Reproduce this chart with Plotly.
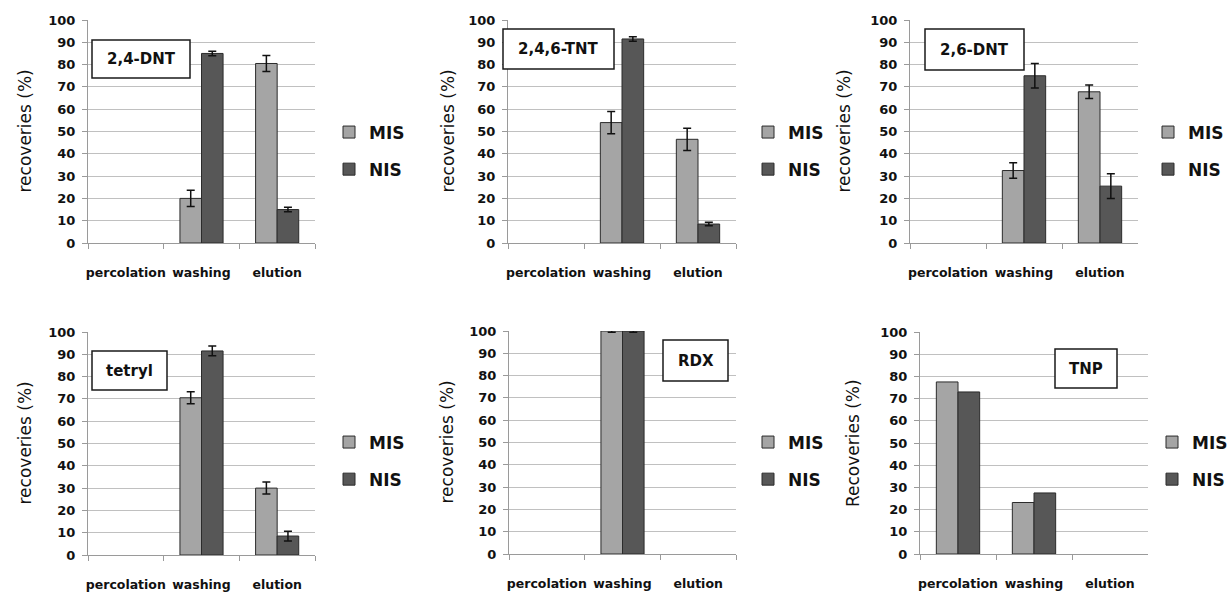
import plotly.graph_objects as go

W, H = 1228, 592

categories = ["percolation", "washing", "elution"]
series_names = ["MIS", "NIS"]

# panel titles
panel_names = ["2,4-DNT", "2,4,6-TNT", "2,6-DNT", "tetryl", "RDX", "TNP"]
y_titles = ["recoveries (%)", "recoveries (%)", "recoveries (%)",
            "recoveries (%)", "recoveries (%)", "Recoveries (%)"]

# values (%)
dnt24_mis = [0, 20, 80.5]
dnt24_nis = [0, 85, 15]
dnt24_mis_err = [None, 3.6, 3.6]
dnt24_nis_err = [None, 1.0, 1.0]

tnt_mis = [0, 54, 46.5]
tnt_nis = [0, 91.5, 8.5]
tnt_mis_err = [None, 5.0, 5.0]
tnt_nis_err = [None, 1.0, 0.8]

dnt26_mis = [0, 32.5, 67.8]
dnt26_nis = [0, 75, 25.5]
dnt26_mis_err = [None, 3.5, 3.0]
dnt26_nis_err = [None, 5.5, 5.5]

tetryl_mis = [0, 70.5, 30]
tetryl_nis = [0, 91.5, 8.5]
tetryl_mis_err = [None, 2.7, 2.7]
tetryl_nis_err = [None, 2.2, 2.2]

rdx_mis = [0, 100, 0]
rdx_nis = [0, 100, 0]
rdx_mis_err = [None, 0.6, None]
rdx_nis_err = [None, 0.6, None]

tnp_mis = [77.5, 23.2, 0]
tnp_nis = [73, 27.5, 0]
tnp_mis_err = [None, None, None]
tnp_nis_err = [None, None, None]

panels = [
    (dnt24_mis, dnt24_nis, dnt24_mis_err, dnt24_nis_err),
    (tnt_mis, tnt_nis, tnt_mis_err, tnt_nis_err),
    (dnt26_mis, dnt26_nis, dnt26_mis_err, dnt26_nis_err),
    (tetryl_mis, tetryl_nis, tetryl_mis_err, tetryl_nis_err),
    (rdx_mis, rdx_nis, rdx_mis_err, rdx_nis_err),
    (tnp_mis, tnp_nis, tnp_mis_err, tnp_nis_err),
]

# layout (pixels)
plot_px = [  # x0, x1, ytop, ybottom
    (88, 315, 20, 243),
    (508, 736, 20, 243),
    (910, 1138, 20, 243),
    (88, 315, 332, 555),
    (509, 736, 331, 554),
    (920, 1148, 332, 554),
]
label_boxes = [  # x0, x1, y0, y1
    (92, 190, 40, 78),
    (503, 614, 29, 69),
    (925, 1024, 29, 70),
    (92, 167, 351, 390),
    (663, 728, 340, 381),
    (1055, 1117, 349, 388),
]
ytitle_x = [24, 447, 843, 24, 446, 853]
legend_px = [  # swatch left x, middle y
    (343, 151), (762, 151), (1162, 151),
    (343, 461), (762, 461), (1166, 461),
]

COL = {"MIS": "#a5a5a5", "NIS": "#575757"}
FONT = "DejaVu Sans"

def px_x(x):
    return x / W

def px_y(y):
    return 1 - y / H

fig = go.Figure()
layout = dict(
    width=W, height=H,
    margin=dict(l=0, r=0, t=0, b=0, autoexpand=False),
    paper_bgcolor="white", plot_bgcolor="white",
    barmode="group", bargap=0.43, bargroupgap=0,
    showlegend=True,
    shapes=[], annotations=[],
)

for i, (mis, nis, mis_e, nis_e) in enumerate(panels):
    k = i + 1
    sfx = "" if k == 1 else str(k)
    leg = "legend" + sfx
    for name, vals, errs in (("MIS", mis, mis_e), ("NIS", nis, nis_e)):
        has_err = any(e is not None for e in errs)
        # zero recoveries are drawn as empty slots (no bar, no error cap)
        y_plot = [v if v else None for v in vals]
        fig.add_trace(go.Bar(
            x=categories, y=y_plot, name=name,
            xaxis="x" + sfx, yaxis="y" + sfx,
            legend=leg, legendgroup=f"{name}{k}",
            marker=dict(color=COL[name], line=dict(color="#2b2b2b", width=1)),
            error_y=dict(type="data", array=errs, visible=has_err,
                         color="#111111", thickness=1.5, width=4),
        ))
    x0, x1, yt, yb = plot_px[i]
    layout["xaxis" + sfx] = dict(
        domain=[px_x(x0), px_x(x1)], anchor="y" + sfx,
        type="category", tickson="boundaries", tickangle=0,
        categoryorder="array", categoryarray=categories,
        ticks="outside", ticklen=5, tickcolor="#9a9a9a", tickwidth=1,
        showline=True, linecolor="#9a9a9a", linewidth=1,
        showgrid=False, zeroline=False, fixedrange=True,
        tickfont=dict(family=FONT, size=12.5, color="#111111", weight="bold"),
        ticklabelstandoff=18,
    )
    layout["yaxis" + sfx] = dict(
        domain=[px_y(yb), px_y(yt)], anchor="x" + sfx,
        range=[0, 100], dtick=10, tick0=0,
        ticks="outside", ticklen=5, tickcolor="#9a9a9a",
        showline=True, linecolor="#9a9a9a", linewidth=1,
        showgrid=True, gridcolor="#c0c0c0", gridwidth=1,
        zeroline=False, fixedrange=True,
        tickfont=dict(family=FONT, size=13, color="#111111", weight="bold"),
        ticklabelstandoff=4,
    )
    lx, ly = legend_px[i]
    layout[leg] = dict(
        x=px_x(lx - 14), y=px_y(ly), xanchor="left", yanchor="middle",
        xref="paper", yref="paper",
        orientation="v", traceorder="grouped", tracegroupgap=12,
        bgcolor="rgba(0,0,0,0)", borderwidth=0,
        font=dict(family=FONT, size=17, color="#111111", weight="bold"),
    )
    bx0, bx1, by0, by1 = label_boxes[i]
    layout["shapes"].append(dict(
        type="rect", xref="paper", yref="paper",
        x0=px_x(bx0), x1=px_x(bx1), y0=px_y(by1), y1=px_y(by0),
        line=dict(color="#1a1a1a", width=1.5), fillcolor="white", layer="above",
    ))
    layout["annotations"].append(dict(
        text=panel_names[i], xref="paper", yref="paper",
        x=px_x((bx0 + bx1) / 2), y=px_y((by0 + by1) / 2),
        xanchor="center", yanchor="middle", showarrow=False,
        font=dict(family=FONT, size=15, color="#111111", weight="bold"),
    ))
    layout["annotations"].append(dict(
        text=y_titles[i], xref="paper", yref="paper",
        x=px_x(ytitle_x[i]), y=px_y((yt + yb) / 2),
        xanchor="center", yanchor="middle", showarrow=False, textangle=-90,
        font=dict(family=FONT, size=17, color="#111111"),
    ))

fig.update_layout(**layout)
fig.write_html("out.html", config={"displayModeBar": False},
               post_script="document.body.style.margin='0px';")
